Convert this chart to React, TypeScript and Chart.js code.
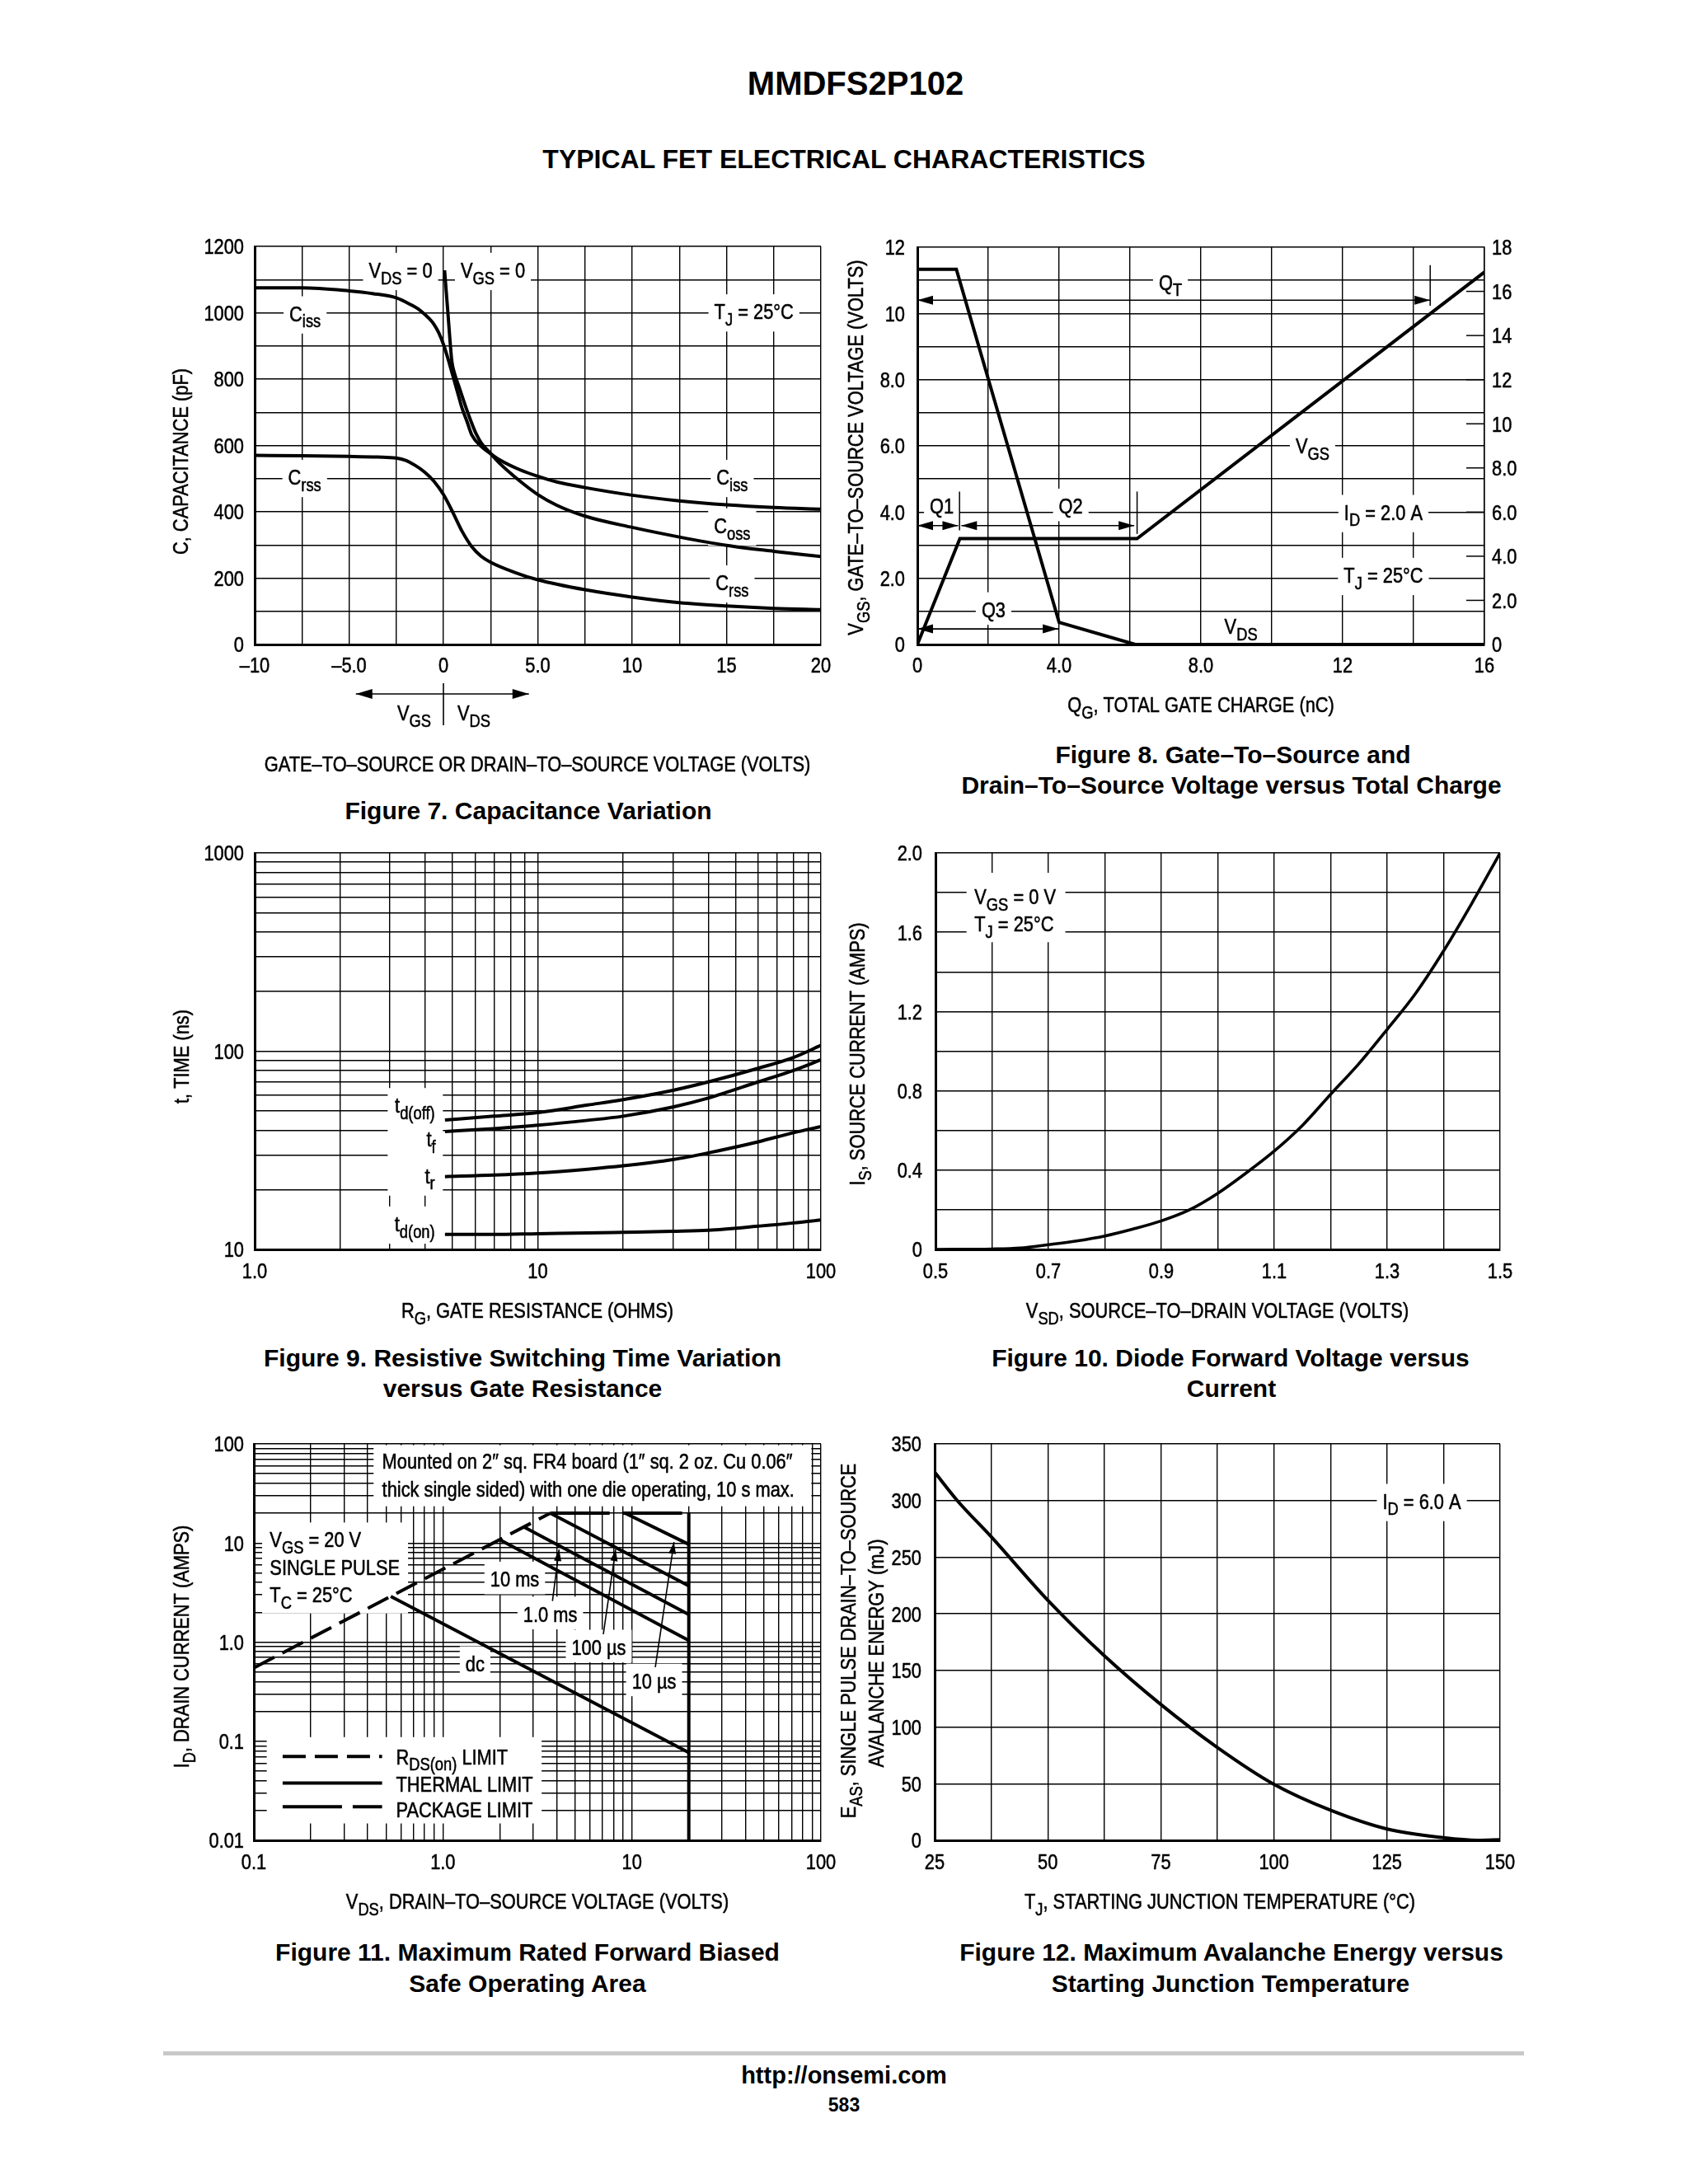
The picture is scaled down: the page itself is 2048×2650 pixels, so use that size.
import React, { useEffect, useRef } from 'react';
import { Chart, registerables } from 'chart.js';

Chart.register(...registerables);
Chart.defaults.color = '#000';

const TEXT_FAMILY = '"Liberation Sans", Arial, Helvetica, sans-serif';
const BOLD_FAMILY = '"Liberation Sans", Arial, Helvetica, sans-serif';
const FS = 26;
const SUB = 0.84;
const SX = 0.84; // condensed (narrow) rendering of the datasheet lettering

// ---------- Figure 7: capacitance ----------
const capXTicks = [-10, -5, 0, 5, 10, 15, 20];
const capXTickLabels = ['–10', '–5.0', '0', '5.0', '10', '15', '20'];
const capYTicks = [0, 200, 400, 600, 800, 1000, 1200];
const capYTickLabels = ['0', '200', '400', '600', '800', '1000', '1200'];
const cissVolts = [-10, -7.5, -5, -3.75, -2.5, -1.75, -1.25, -0.75, -0.5, -0.25, 0, 0.25, 0.5, 0.75, 1, 1.25, 1.5, 2, 2.5, 3, 4, 5, 6, 7.5, 10, 12.5, 15, 17.5, 20];
const cissPf = [1075, 1075, 1066, 1058, 1045, 1025, 1008, 982, 965, 940, 905, 860, 810, 760, 710, 672, 632, 597, 575, 556, 528, 507, 490, 473, 450, 433, 421, 413, 408];
const cossVolts = [0.06, 0.15, 0.25, 0.35, 0.45, 0.6, 0.8, 1, 1.27, 1.5, 1.75, 2, 2.5, 3, 4, 5, 6, 7.5, 10, 12.5, 15, 17.5, 20];
const cossPf = [1128, 1063, 990, 915, 852, 815, 781, 747, 702, 667, 633, 608, 576, 545, 495, 452, 420, 387, 353, 324, 299, 281, 265];
const crssVolts = [-10, -7.5, -5, -3.5, -2.5, -2, -1.5, -1, -0.5, 0, 0.5, 1, 1.5, 2, 2.5, 3.75, 5, 7.5, 10, 12.5, 15, 17.5, 20];
const crssPf = [570, 569, 567, 565, 562, 555, 540, 520, 492, 452, 398, 340, 295, 266, 248, 218, 195, 165, 143, 126, 116, 109, 105];

// ---------- Figure 8: gate charge ----------
const qgTicks = [0, 4, 8, 12, 16];
const qgTickLabels = ['0', '4.0', '8.0', '12', '16'];
const vgsTicks = [0, 2, 4, 6, 8, 10, 12];
const vgsTickLabels = ['0', '2.0', '4.0', '6.0', '8.0', '10', '12'];
const vdsRightTicks = [0, 2, 4, 6, 8, 10, 12, 14, 16, 18];
const vdsRightTickLabels = ['0', '2.0', '4.0', '6.0', '8.0', '10', '12', '14', '16', '18'];
const qgVgs = [0, 1.2, 6.2, 16];
const vgsVolts = [0, 3.2, 3.2, 11.25];
const qgVds = [0, 1.1, 4.0, 6.15, 16];
const vdsVolts = [17, 17, 1.0, 0, 0];

// ---------- Figure 9: switching time ----------
const rgTicks = [1, 10, 100];
const rgTickLabels = ['1.0', '10', '100'];
const timeTicks = [10, 100, 1000];
const timeTickLabels = ['10', '100', '1000'];
const rgOhms = [4.7, 7, 10, 15, 20, 30, 40, 60, 80, 100];
const tdOffNs = [45, 47, 49, 53.5, 57, 63.5, 70, 82, 93, 107];
const tfNs = [39.3, 40.7, 42.3, 44.8, 47, 52.3, 58, 70, 80, 90.5];
const trNs = [23.3, 23.7, 24.3, 25.4, 26.4, 28.4, 30.7, 34.9, 38.8, 41.7];
const tdOnNs = [11.9, 11.9, 12.0, 12.1, 12.2, 12.35, 12.5, 13.1, 13.6, 14.1];

// ---------- Figure 10: diode forward ----------
const vsdTicks = [0.5, 0.7, 0.9, 1.1, 1.3, 1.5];
const vsdTickLabels = ['0.5', '0.7', '0.9', '1.1', '1.3', '1.5'];
const isTicks = [0, 0.4, 0.8, 1.2, 1.6, 2.0];
const isTickLabels = ['0', '0.4', '0.8', '1.2', '1.6', '2.0'];
const vsdVolts = [0.5, 0.6, 0.65, 0.7, 0.75, 0.8, 0.85, 0.9, 0.95, 1.0, 1.05, 1.1, 1.15, 1.2, 1.25, 1.3, 1.35, 1.4, 1.45, 1.5];
const isAmps = [0, 0.002, 0.007, 0.024, 0.043, 0.068, 0.103, 0.144, 0.2, 0.283, 0.385, 0.496, 0.626, 0.783, 0.937, 1.11, 1.29, 1.506, 1.746, 2.0];

// ---------- Figure 11: safe operating area ----------
const soaXTicks = [0.1, 1, 10, 100];
const soaXTickLabels = ['0.1', '1.0', '10', '100'];
const soaYTicks = [0.01, 0.1, 1, 10, 100];
const soaYTickLabels = ['0.01', '0.1', '1.0', '10', '100'];
const rdsV = [0.1, 3.7];
const rdsI = [0.55, 20];
const pkgV = [3.7, 20];
const pkgI = [20, 20];
const dcV = [0.53, 20];
const dcI = [2.9, 0.077];
const ms10V = [2.0, 20];
const ms10I = [10.8, 1.04];
const ms1V = [2.68, 20];
const ms1I = [14.5, 1.9];
const us100V = [3.7, 20];
const us100I = [20, 3.7];
const us10V = [9.2, 20];
const us10I = [20, 9.7];
const bvV = [20, 20];
const bvI = [0.01, 20];

// ---------- Figure 12: avalanche energy ----------
const tjTicks = [25, 50, 75, 100, 125, 150];
const tjTickLabels = ['25', '50', '75', '100', '125', '150'];
const easTicks = [0, 50, 100, 150, 200, 250, 300, 350];
const easTickLabels = ['0', '50', '100', '150', '200', '250', '300', '350'];
const tjDeg = [25, 30, 37.5, 50, 62.5, 75, 87.5, 100, 112.5, 125, 137.5, 145, 150];
const easMj = [325, 300, 268, 212, 163, 120, 82, 49.5, 26.6, 10, 2.3, 0, 0.5];

// ---------- helpers ----------
function stepGrid(min: number, max: number, step: number) {
  const n = Math.round((max - min) / step);
  const out: number[] = [];
  for (let i = 0; i <= n; i++) out.push(+(min + i * step).toFixed(6));
  return out;
}
function logGrid(min: number, max: number) {
  const out: number[] = [];
  const e0 = Math.round(Math.log10(min));
  const e1 = Math.round(Math.log10(max));
  for (let e = e0; e < e1; e++) for (let m = 1; m < 10; m++) out.push(+(m * Math.pow(10, e)).toPrecision(3));
  out.push(max);
  return out;
}

type AxisOpt = {
  type?: 'linear' | 'logarithmic'; min: number; max: number; grid: number[];
  size: number; horiz: boolean; position?: string; showGrid?: boolean; borderW?: number;
};
function axis(o: AxisOpt) {
  return {
    type: o.type ?? 'linear',
    position: o.position ?? (o.horiz ? 'bottom' : 'left'),
    min: o.min,
    max: o.max,
    afterBuildTicks: (s: any) => { s.ticks = o.grid.map((v) => ({ value: v })); },
    afterFit: (s: any) => { if (o.horiz) s.height = o.size; else s.width = o.size; },
    ticks: { display: false, autoSkip: false, maxRotation: 0, minRotation: 0 },
    grid: { display: o.showGrid !== false, color: '#000', lineWidth: 1.4, drawTicks: false },
    border: { display: true, color: '#000', width: o.borderW ?? 3 },
  };
}

function ds(xs: number[], ys: number[], extra: any = {}) {
  return {
    data: xs.map((x, i) => ({ x, y: ys[i] })),
    borderColor: '#000', borderWidth: 4, pointRadius: 0, fill: false, tension: 0, ...extra,
  };
}
const smooth = { cubicInterpolationMode: 'monotone' };

function parts(s: string) {
  const out: { t: string; sub: boolean }[] = [];
  const re = /_\{([^}]*)\}/g;
  let last = 0;
  let m: RegExpExecArray | null;
  while ((m = re.exec(s))) {
    if (m.index > last) out.push({ t: s.slice(last, m.index), sub: false });
    out.push({ t: m[1], sub: true });
    last = re.lastIndex;
  }
  if (last < s.length) out.push({ t: s.slice(last), sub: false });
  return out;
}
function fontStr(size: number) { return `${size}px ${TEXT_FAMILY}`; }
function measureRich(ctx: CanvasRenderingContext2D, s: string, size = FS) {
  let w = 0;
  for (const p of parts(s)) { ctx.font = fontStr(p.sub ? size * SUB : size); w += ctx.measureText(p.t).width; }
  return w * SX;
}
function drawRich(ctx: CanvasRenderingContext2D, s: string, x0: number, yc: number, size = FS) {
  ctx.save();
  ctx.translate(x0, yc);
  ctx.scale(SX, 1);
  let x = 0;
  const base = size * 0.36;
  ctx.textAlign = 'left';
  ctx.textBaseline = 'alphabetic';
  ctx.fillStyle = '#000';
  ctx.strokeStyle = '#000';
  ctx.lineWidth = 0.55;
  ctx.setLineDash([]);
  for (const p of parts(s)) {
    ctx.font = fontStr(p.sub ? size * SUB : size);
    const yy = p.sub ? base + size * 0.3 : base;
    ctx.fillText(p.t, x, yy);
    ctx.strokeText(p.t, x, yy);
    x += ctx.measureText(p.t).width;
  }
  ctx.restore();
}
function head(ctx: CanvasRenderingContext2D, xf: number, yf: number, xt: number, yt: number, len: number, hw: number) {
  const a = Math.atan2(yt - yf, xt - xf);
  const bx = xt - len * Math.cos(a);
  const by = yt - len * Math.sin(a);
  const nx = -Math.sin(a) * hw;
  const ny = Math.cos(a) * hw;
  ctx.beginPath();
  ctx.moveTo(xt, yt);
  ctx.lineTo(bx + nx, by + ny);
  ctx.lineTo(bx - nx, by - ny);
  ctx.closePath();
  ctx.fill();
}

type Lbl = { t: string; x: number; y: number; align?: 'left' | 'center' | 'right'; bg?: boolean; ya?: string; bx?: [number, number]; pad?: number };
type Arw = { x1: number; y1: number; x2: number; y2: number; h1?: boolean; h2?: boolean; ya?: string; hl?: number; hw?: number };
type Ln = { x1: number; y1: number; x2: number; y2: number; ya?: string; w?: number; dash?: number[] };
type Rc = { x1: number; y1: number; x2: number; y2: number; ya?: string };
type Ttl = { t: string; x: number; y: number; rot?: boolean };
type TickSpec = { id: string; vals: number[]; labels: string[]; pad: number };
type Decor = {
  ticks?: TickSpec[];
  labels?: Lbl[]; arrows?: Arw[]; lines?: Ln[]; rects?: Rc[]; titles?: Ttl[];
  extra?: (chart: any, ctx: CanvasRenderingContext2D) => void;
};

function makeDecor(d: Decor, L: number, T: number) {
  const xOf = (c: any, v: number) => c.scales.x.getPixelForValue(v);
  const yOf = (c: any, ya: string | undefined, v: number) => c.scales[ya ?? 'y'].getPixelForValue(v);
  const geom = (ctx: CanvasRenderingContext2D, c: any, l: Lbl) => {
    const X = xOf(c, l.x);
    const Y = yOf(c, l.ya, l.y);
    const w = measureRich(ctx, l.t);
    const x0 = l.align === 'left' ? X : l.align === 'right' ? X - w : X - w / 2;
    return { X, Y, w, x0 };
  };
  return {
    id: 'decor',
    beforeDatasetsDraw(c: any) {
      const ctx = c.ctx as CanvasRenderingContext2D;
      ctx.save();
      ctx.fillStyle = '#fff';
      for (const r of d.rects ?? []) {
        const x1 = xOf(c, r.x1), x2 = xOf(c, r.x2), y1 = yOf(c, r.ya, r.y1), y2 = yOf(c, r.ya, r.y2);
        ctx.fillRect(Math.min(x1, x2), Math.min(y1, y2), Math.abs(x2 - x1), Math.abs(y2 - y1));
      }
      for (const l of d.labels ?? []) {
        if (l.bg === false) continue;
        const g = geom(ctx, c, l);
        const pad = l.pad ?? 7;
        let b1 = g.x0 - pad;
        let b2 = g.x0 + g.w + pad;
        if (l.bx) { b1 = xOf(c, l.bx[0]); b2 = xOf(c, l.bx[1]); }
        const top = g.Y - FS * 0.8;
        const bot = g.Y + FS * 0.72 + (l.t.includes('_{') ? FS * 0.22 : 0);
        ctx.fillStyle = '#fff';
        ctx.fillRect(b1, top, b2 - b1, bot - top);
      }
      ctx.restore();
    },
    afterDatasetsDraw(c: any) {
      const ctx = c.ctx as CanvasRenderingContext2D;
      ctx.save();
      ctx.strokeStyle = '#000';
      ctx.fillStyle = '#000';
      for (const ln of d.lines ?? []) {
        ctx.lineWidth = ln.w ?? 1.5;
        ctx.setLineDash(ln.dash ?? []);
        ctx.beginPath();
        ctx.moveTo(xOf(c, ln.x1), yOf(c, ln.ya, ln.y1));
        ctx.lineTo(xOf(c, ln.x2), yOf(c, ln.ya, ln.y2));
        ctx.stroke();
      }
      ctx.setLineDash([]);
      for (const a of d.arrows ?? []) {
        const x1 = xOf(c, a.x1), y1 = yOf(c, a.ya, a.y1), x2 = xOf(c, a.x2), y2 = yOf(c, a.ya, a.y2);
        const hl = a.hl ?? 19, hw = a.hw ?? 5.5;
        ctx.lineWidth = 1.6;
        ctx.beginPath();
        ctx.moveTo(x1, y1);
        ctx.lineTo(x2, y2);
        ctx.stroke();
        if (a.h1) head(ctx, x2, y2, x1, y1, hl, hw);
        if (a.h2) head(ctx, x1, y1, x2, y2, hl, hw);
      }
      for (const l of d.labels ?? []) {
        const g = geom(ctx, c, l);
        drawRich(ctx, l.t, g.x0, g.Y);
      }
      if (d.extra) d.extra(c, ctx);
      ctx.restore();
    },
    afterDraw(c: any) {
      const ctx = c.ctx as CanvasRenderingContext2D;
      const area = c.chartArea;
      ctx.save();
      // tick labels, placed through the chart's own scales
      for (const tk of d.ticks ?? []) {
        const s = c.scales[tk.id];
        tk.vals.forEach((v, i) => {
          const lab = tk.labels[i];
          const w = measureRich(ctx, lab);
          const p = s.getPixelForValue(v);
          if (s.isHorizontal()) drawRich(ctx, lab, p - w / 2, area.bottom + tk.pad);
          else if (s.position === 'right') drawRich(ctx, lab, area.right + tk.pad, p);
          else drawRich(ctx, lab, area.left - tk.pad - w, p);
        });
      }
      for (const t of d.titles ?? []) {
        const w = measureRich(ctx, t.t);
        ctx.save();
        ctx.translate(t.x - L, t.y - T);
        if (t.rot) ctx.rotate(-Math.PI / 2);
        drawRich(ctx, t.t, -w / 2, 0);
        ctx.restore();
      }
      ctx.restore();
    },
  };
}

function baseOptions(scales: any, top: number, right: number) {
  return {
    responsive: false,
    animation: false,
    events: [],
    layout: { padding: { left: 0, top, right, bottom: 0 } },
    plugins: { legend: { display: false }, tooltip: { enabled: false }, title: { display: false } },
    scales,
  };
}

// ---------- chart builders ----------
const C7 = { L: 170, T: 270, W: 850, H: 680 };
function build7() {
  const decor: Decor = {
    ticks: [
      { id: 'x', vals: capXTicks, labels: capXTickLabels, pad: 25 },
      { id: 'y', vals: capYTicks, labels: capYTickLabels, pad: 13 },
    ],
    labels: [
      { t: 'C_{iss}', x: -7.33, y: 998 },
      { t: 'C_{rss}', x: -7.35, y: 505 },
      { t: 'V_{DS} = 0', x: -2.27, y: 1129 },
      { t: 'V_{GS} = 0', x: 2.62, y: 1129 },
      { t: 'T_{J} = 25°C', x: 16.45, y: 1004 },
      { t: 'C_{iss}', x: 15.3, y: 505 },
      { t: 'C_{oss}', x: 15.3, y: 359 },
      { t: 'C_{rss}', x: 15.3, y: 187 },
    ],
    titles: [
      { t: 'C, CAPACITANCE (pF)', x: 219, y: 560, rot: true },
      { t: 'GATE–TO–SOURCE OR DRAIN–TO–SOURCE VOLTAGE (VOLTS)', x: 652, y: 927 },
    ],
    extra: (c, ctx) => {
      const xs = c.scales.x;
      const b = c.chartArea.bottom;
      const xa = xs.getPixelForValue(-4.64), xb = xs.getPixelForValue(4.53), x0 = xs.getPixelForValue(0);
      const y = b + 60;
      ctx.strokeStyle = '#000';
      ctx.fillStyle = '#000';
      ctx.lineWidth = 1.6;
      ctx.beginPath(); ctx.moveTo(xa, y); ctx.lineTo(xb, y); ctx.stroke();
      head(ctx, xb, y, xa, y, 20, 6);
      head(ctx, xa, y, xb, y, 20, 6);
      ctx.beginPath(); ctx.moveTo(x0, b + 47); ctx.lineTo(x0, b + 98); ctx.stroke();
      const wg = measureRich(ctx, 'V_{GS}');
      drawRich(ctx, 'V_{GS}', x0 - 15 - wg, b + 83);
      drawRich(ctx, 'V_{DS}', x0 + 17, b + 83);
    },
  };
  return {
    type: 'line',
    data: {
      datasets: [
        ds(cissVolts, cissPf, smooth),
        ds(cossVolts, cossPf, smooth),
        ds(crssVolts, crssPf, smooth),
      ],
    },
    options: baseOptions({
      x: axis({ min: -10, max: 20, grid: stepGrid(-10, 20, 2.5), size: 168, horiz: true }),
      y: axis({ min: 0, max: 1200, grid: stepGrid(0, 1200, 100), size: 139, horiz: false }),
    }, 29, 24),
    plugins: [makeDecor(decor, C7.L, C7.T)],
  };
}

const C8 = { L: 1020, T: 270, W: 860, H: 620 };
function build8() {
  const decor: Decor = {
    ticks: [
      { id: 'x', vals: qgTicks, labels: qgTickLabels, pad: 25 },
      { id: 'y', vals: vgsTicks, labels: vgsTickLabels, pad: 15 },
      { id: 'y1', vals: vdsRightTicks, labels: vdsRightTickLabels, pad: 9 },
    ],
    labels: [
      { t: 'Q_{T}', x: 7.14, y: 10.95 },
      { t: 'Q1', x: 0.69, y: 4.19 },
      { t: 'Q2', x: 4.33, y: 4.19 },
      { t: 'Q3', x: 2.15, y: 1.06 },
      { t: 'V_{GS}', x: 11.15, y: 6.0 },
      { t: 'V_{DS}', x: 9.13, y: 0.56, bg: false },
      { t: 'I_{D} = 2.0 A', x: 13.15, y: 4.0 },
      { t: 'T_{J} = 25°C', x: 13.15, y: 2.1 },
    ],
    arrows: [
      { x1: 0, y1: 10.4, x2: 14.47, y2: 10.4, h1: true, h2: true },
      { x1: 0, y1: 3.59, x2: 1.15, y2: 3.59, h1: true, h2: true },
      { x1: 1.24, y1: 3.59, x2: 6.12, y2: 3.59, h1: true, h2: true },
      { x1: 0, y1: 0.47, x2: 3.98, y2: 0.47, h1: true, h2: true },
    ],
    lines: [
      { x1: 14.47, y1: 10.23, x2: 14.47, y2: 11.46 },
      { x1: 1.19, y1: 3.45, x2: 1.19, y2: 4.62 },
      { x1: 6.2, y1: 3.34, x2: 6.2, y2: 4.62 },
    ],
    titles: [
      { t: 'V_{GS}, GATE–TO–SOURCE VOLTAGE (VOLTS)', x: 1038, y: 543, rot: true },
      { t: 'Q_{G}, TOTAL GATE CHARGE (nC)', x: 1457, y: 855 },
    ],
    extra: (c, ctx) => {
      const r = c.chartArea.right;
      ctx.lineWidth = 1.5;
      ctx.strokeStyle = '#000';
      for (const v of vdsRightTicks) {
        if (v === 0 || v === 18) continue;
        const y = c.scales.y1.getPixelForValue(v);
        ctx.beginPath(); ctx.moveTo(r - 22, y); ctx.lineTo(r, y); ctx.stroke();
      }
    },
  };
  return {
    type: 'line',
    data: {
      datasets: [
        ds(qgVgs, vgsVolts, { yAxisID: 'y' }),
        ds(qgVds, vdsVolts, { yAxisID: 'y1' }),
      ],
    },
    options: baseOptions({
      x: axis({ min: 0, max: 16, grid: stepGrid(0, 16, 2), size: 108, horiz: true }),
      y: axis({ min: 0, max: 12, grid: stepGrid(0, 12, 1), size: 93, horiz: false }),
      y1: axis({ min: 0, max: 18, grid: vdsRightTicks, size: 79, horiz: false, position: 'right', showGrid: false, borderW: 1.5 }),
    }, 30, 0),
    plugins: [makeDecor(decor, C8.L, C8.T)],
  };
}

const C9 = { L: 170, T: 1005, W: 850, H: 620 };
function build9() {
  const decor: Decor = {
    ticks: [
      { id: 'x', vals: rgTicks, labels: rgTickLabels, pad: 26 },
      { id: 'y', vals: timeTicks, labels: timeTickLabels, pad: 13 },
    ],
    labels: [
      { t: 't_{d(off)}', x: 4.33, y: 53.4, align: 'right', bx: [2.95, 4.62] },
      { t: 't_{f}', x: 4.36, y: 36.1, align: 'right', bx: [2.95, 4.62] },
      { t: 't_{r}', x: 4.33, y: 23.6, align: 'right', bx: [2.95, 4.62] },
      { t: 't_{d(on)}', x: 4.33, y: 13.5, align: 'right', bx: [2.95, 4.62] },
    ],
    titles: [
      { t: 't, TIME (ns)', x: 220, y: 1282, rot: true },
      { t: 'R_{G}, GATE RESISTANCE (OHMS)', x: 652, y: 1590 },
    ],
  };
  return {
    type: 'line',
    data: {
      datasets: [
        ds(rgOhms, tdOffNs, smooth),
        ds(rgOhms, tfNs, smooth),
        ds(rgOhms, trNs, smooth),
        ds(rgOhms, tdOnNs, smooth),
      ],
    },
    options: baseOptions({
      x: axis({ type: 'logarithmic', min: 1, max: 100, grid: logGrid(1, 100), size: 109, horiz: true }),
      y: axis({ type: 'logarithmic', min: 10, max: 1000, grid: logGrid(10, 1000), size: 139, horiz: false }),
    }, 30, 24),
    plugins: [makeDecor(decor, C9.L, C9.T)],
  };
}

const C10 = { L: 1020, T: 1005, W: 860, H: 620 };
function build10() {
  const decor: Decor = {
    ticks: [
      { id: 'x', vals: vsdTicks, labels: vsdTickLabels, pad: 26 },
      { id: 'y', vals: isTicks, labels: isTickLabels, pad: 16 },
    ],
    rects: [{ x1: 0.555, y1: 1.55, x2: 0.73, y2: 1.9 }],
    labels: [
      { t: 'V_{GS} = 0 V', x: 0.569, y: 1.78, align: 'left', bg: false },
      { t: 'T_{J} = 25°C', x: 0.569, y: 1.644, align: 'left', bg: false },
    ],
    titles: [
      { t: 'I_{S}, SOURCE CURRENT (AMPS)', x: 1040, y: 1279, rot: true },
      { t: 'V_{SD}, SOURCE–TO–DRAIN VOLTAGE (VOLTS)', x: 1477, y: 1590 },
    ],
  };
  return {
    type: 'line',
    data: { datasets: [ds(vsdVolts, isAmps, { ...smooth, borderWidth: 3.6 })] },
    options: baseOptions({
      x: axis({ min: 0.5, max: 1.5, grid: stepGrid(0.5, 1.5, 0.1), size: 109, horiz: true }),
      y: axis({ min: 0, max: 2, grid: stepGrid(0, 2, 0.2), size: 115, horiz: false }),
    }, 30, 60),
    plugins: [makeDecor(decor, C10.L, C10.T)],
  };
}

const C11 = { L: 170, T: 1722, W: 850, H: 620 };
function build11() {
  const decor: Decor = {
    ticks: [
      { id: 'x', vals: soaXTicks, labels: soaXTickLabels, pad: 26 },
      { id: 'y', vals: soaYTicks, labels: soaYTickLabels, pad: 12 },
    ],
    rects: [
      { x1: 0.43, y1: 23.5, x2: 89, y2: 97 },
      { x1: 0.1106, y1: 1.95, x2: 0.654, y2: 16.1 },
      { x1: 0.117, y1: 0.0148, x2: 3.33, y2: 0.11 },
    ],
    labels: [
      { t: 'Mounted on 2″ sq. FR4 board (1″ sq. 2 oz. Cu 0.06″', x: 0.477, y: 67, align: 'left', bg: false },
      { t: 'thick single sided) with one die operating, 10 s max.', x: 0.477, y: 35.2, align: 'left', bg: false },
      { t: 'V_{GS} = 20 V', x: 0.1214, y: 10.96, align: 'left', bg: false },
      { t: 'SINGLE PULSE', x: 0.1214, y: 5.73, align: 'left', bg: false },
      { t: 'T_{C} = 25°C', x: 0.1214, y: 3.01, align: 'left', bg: false },
      { t: '10 ms', x: 2.4, y: 4.35 },
      { t: '1.0 ms', x: 3.7, y: 1.93 },
      { t: '100 µs', x: 6.68, y: 0.895 },
      { t: '10 µs', x: 13.1, y: 0.407 },
      { t: 'dc', x: 1.48, y: 0.61 },
      { t: 'R_{DS(on)} LIMIT', x: 0.565, y: 0.0702, align: 'left', bg: false },
      { t: 'THERMAL LIMIT', x: 0.565, y: 0.0369, align: 'left', bg: false },
      { t: 'PACKAGE LIMIT', x: 0.565, y: 0.0205, align: 'left', bg: false },
    ],
    lines: [
      { x1: 0.142, y1: 0.0702, x2: 0.477, y2: 0.0702, w: 4, dash: [28, 11] },
      { x1: 0.142, y1: 0.0379, x2: 0.477, y2: 0.0379, w: 4 },
      { x1: 0.142, y1: 0.0218, x2: 0.477, y2: 0.0218, w: 4, dash: [72, 13] },
    ],
    arrows: [
      { x1: 3.8, y1: 2.6, x2: 4.12, y2: 8.6, h2: true, hl: 14, hw: 4.5 },
      { x1: 7.06, y1: 1.2, x2: 8.2, y2: 8.6, h2: true, hl: 14, hw: 4.5 },
      { x1: 13.3, y1: 0.56, x2: 16.7, y2: 10.2, h2: true, hl: 14, hw: 4.5 },
    ],
    titles: [
      { t: 'I_{D}, DRAIN CURRENT (AMPS)', x: 220, y: 1998, rot: true },
      { t: 'V_{DS}, DRAIN–TO–SOURCE VOLTAGE (VOLTS)', x: 652, y: 2307 },
    ],
  };
  return {
    type: 'line',
    data: {
      datasets: [
        ds(rdsV, rdsI, { borderDash: [28, 11] }),
        ds(pkgV, pkgI, { borderDash: [72, 16] }),
        ds(dcV, dcI),
        ds(ms10V, ms10I),
        ds(ms1V, ms1I),
        ds(us100V, us100I),
        ds(us10V, us10I),
        ds(bvV, bvI),
      ],
    },
    options: baseOptions({
      x: axis({ type: 'logarithmic', min: 0.1, max: 100, grid: logGrid(0.1, 100), size: 109, horiz: true }),
      y: axis({ type: 'logarithmic', min: 0.01, max: 100, grid: logGrid(0.01, 100), size: 138, horiz: false }),
    }, 30, 24),
    plugins: [makeDecor(decor, C11.L, C11.T)],
  };
}

const C12 = { L: 1020, T: 1722, W: 860, H: 620 };
function build12() {
  const decor: Decor = {
    ticks: [
      { id: 'x', vals: tjTicks, labels: tjTickLabels, pad: 26 },
      { id: 'y', vals: easTicks, labels: easTickLabels, pad: 16 },
    ],
    labels: [{ t: 'I_{D} = 6.0 A', x: 132.7, y: 299.6 }],
    titles: [
      { t: 'E_{AS}, SINGLE PULSE DRAIN–TO–SOURCE', x: 1029, y: 1991, rot: true },
      { t: 'AVALANCHE ENERGY (mJ)', x: 1063, y: 2006, rot: true },
      { t: 'T_{J}, STARTING JUNCTION TEMPERATURE (°C)', x: 1480, y: 2307 },
    ],
  };
  return {
    type: 'line',
    data: { datasets: [ds(tjDeg, easMj, smooth)] },
    options: baseOptions({
      x: axis({ min: 25, max: 150, grid: stepGrid(25, 150, 12.5), size: 109, horiz: true }),
      y: axis({ min: 0, max: 350, grid: stepGrid(0, 350, 50), size: 114, horiz: false }),
    }, 30, 60),
    plugins: [makeDecor(decor, C12.L, C12.T)],
  };
}

// ---------- components ----------
function ChartBox({ box, build }: { box: { L: number; T: number; W: number; H: number }; build: () => any }) {
  const ref = useRef<HTMLCanvasElement | null>(null);
  useEffect(() => {
    if (!ref.current) return;
    const ch = new Chart(ref.current, build());
    return () => ch.destroy();
  }, []);
  return (
    <canvas
      ref={ref}
      width={box.W}
      height={box.H}
      style={{ position: 'absolute', left: box.L, top: box.T, width: box.W, height: box.H }}
    />
  );
}

function PageText({ x, y, size, children }: { x: number; y: number; size: number; children: React.ReactNode }) {
  return (
    <div
      style={{
        position: 'absolute', left: x, top: y, transform: 'translate(-50%, -50%)',
        fontFamily: BOLD_FAMILY, fontWeight: 700, fontSize: size, lineHeight: 1,
        whiteSpace: 'nowrap', color: '#000',
      }}
    >
      {children}
    </div>
  );
}

export default function App() {
  return (
    <div style={{ position: 'absolute', left: 0, top: 0, width: 2048, height: 2650, background: '#fff', overflow: 'hidden' }}>
      <ChartBox box={C7} build={build7} />
      <ChartBox box={C8} build={build8} />
      <ChartBox box={C9} build={build9} />
      <ChartBox box={C10} build={build10} />
      <ChartBox box={C11} build={build11} />
      <ChartBox box={C12} build={build12} />

      <PageText x={1038} y={101} size={40}>MMDFS2P102</PageText>
      <PageText x={1024} y={193} size={32}>TYPICAL FET ELECTRICAL CHARACTERISTICS</PageText>

      <PageText x={641} y={984} size={30}>Figure 7. Capacitance Variation</PageText>
      <PageText x={1496} y={916} size={30}>Figure 8. Gate–To–Source and</PageText>
      <PageText x={1494} y={953} size={30}>Drain–To–Source Voltage versus Total Charge</PageText>
      <PageText x={634} y={1648} size={30}>Figure 9. Resistive Switching Time Variation</PageText>
      <PageText x={634} y={1685} size={30}>versus Gate Resistance</PageText>
      <PageText x={1493} y={1648} size={30}>Figure 10. Diode Forward Voltage versus</PageText>
      <PageText x={1494} y={1685} size={30}>Current</PageText>
      <PageText x={640} y={2369} size={30}>Figure 11. Maximum Rated Forward Biased</PageText>
      <PageText x={640} y={2407} size={30}>Safe Operating Area</PageText>
      <PageText x={1494} y={2369} size={30}>Figure 12. Maximum Avalanche Energy versus</PageText>
      <PageText x={1493} y={2407} size={30}>Starting Junction Temperature</PageText>

      <div style={{ position: 'absolute', left: 198, top: 2489, width: 1651, height: 5, background: '#c8c8c8' }} />
      <PageText x={1024} y={2518} size={29}>http://onsemi.com</PageText>
      <PageText x={1024} y={2554} size={23}>583</PageText>
    </div>
  );
}
